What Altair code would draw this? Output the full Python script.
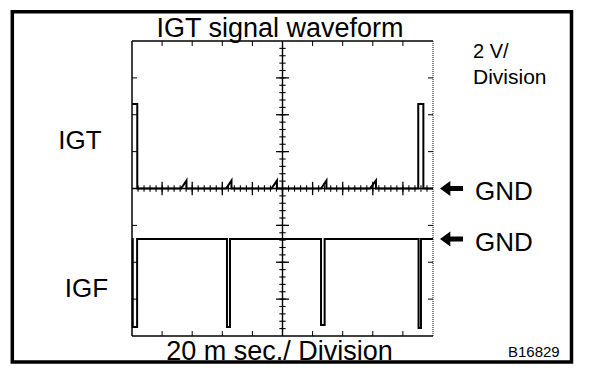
import altair as alt
import pandas as pd
import numpy as np

# ---- data: time in ms (20 ms/div), voltage in V (2 V/div)
IGT_T = [0, 3.5, 3.5, 32.6, 36.2, 36.2, 62.5, 66.1, 66.1, 92.7, 96.3, 96.3,
         125.6, 129.2, 129.2, 158.1, 162.1, 162.1, 190.2, 190.2, 193.6, 193.6, 200]
IGT_V = [4.58, 4.58, 0, 0, 0.43, 0, 0, 0.43, 0, 0, 0.43, 0,
         0, 0.43, 0, 0, 0.43, 0, 0, 4.58, 4.58, 0, 0]
IGF_T = [0, 0.5, 0.5, 3.4, 3.4, 63.1, 63.1, 65.1, 65.1, 125.6, 125.6, 128.0, 128.0,
         190.4, 190.4, 192.0, 192.0, 200]
IGF_V = [0, 0, -4.77, -4.77, 0, 0, -4.77, -4.77, 0, 0, -4.66, -4.66, 0,
         0, -4.83, -4.83, 0, 0]
IGF_GND = -2.74           # IGF trace ground level on screen (V)
IGT_GND = 0.0

# graticule
DIV_T = [20, 40, 60, 80, 100, 120, 140, 160, 180]
DIV_V = [-6, -4, -2, 0, 2, 4, 6]
MINOR_T = [float(v) for v in np.arange(4, 200, 4)]
MINOR_V = [float(v) for v in np.round(np.arange(-7.6, 8, 0.4), 2)]

W, H = 301, 295
FONT = "Liberation Sans"

xs = alt.Scale(domain=[0, 200], nice=False, zero=False)
ys = alt.Scale(domain=[-8, 8], nice=False, zero=False)
X = alt.X("t:Q", scale=xs, axis=None)
Y = alt.Y("v:Q", scale=ys, axis=None)

one = pd.DataFrame({"a": [0]})
igt = pd.DataFrame({"t": IGT_T, "v": IGT_V, "i": range(len(IGT_T))})
igf = pd.DataFrame({"t": IGF_T, "v": [v + IGF_GND for v in IGF_V], "i": range(len(IGF_T))})
div_t = pd.DataFrame({"t": DIV_T})
div_v = pd.DataFrame({"v": DIV_V})
min_t = pd.DataFrame({"t": MINOR_T})
min_v = pd.DataFrame({"v": MINOR_V})
gnd = pd.DataFrame({"v": [IGT_GND, IGF_GND]})

layers = []

# frame of the screen
layers.append(alt.Chart(one).mark_rule(color="black", strokeWidth=1.5).encode(
    x=alt.value(0), y=alt.value(0), y2=alt.value(H)))
layers.append(alt.Chart(one).mark_rule(color="black", strokeWidth=1.5).encode(
    x=alt.value(0), x2=alt.value(W), y=alt.value(0)))
layers.append(alt.Chart(one).mark_rule(color="black", strokeWidth=1.5).encode(
    x=alt.value(0), x2=alt.value(W), y=alt.value(H)))
layers.append(alt.Chart(one).mark_rule(color="black", strokeWidth=1, strokeDash=[1, 1]).encode(
    x=alt.value(W), y=alt.value(0), y2=alt.value(H)))

# edge ticks
layers.append(alt.Chart(div_t).mark_rule(color="black", strokeWidth=1).encode(
    x=X, y=alt.value(0), y2=alt.value(5)))
layers.append(alt.Chart(div_t).mark_rule(color="black", strokeWidth=1).encode(
    x=X, y=alt.value(H - 5), y2=alt.value(H)))
layers.append(alt.Chart(div_v).mark_rule(color="black", strokeWidth=1).encode(
    y=Y, x=alt.value(0), x2=alt.value(5)))
layers.append(alt.Chart(div_v).mark_rule(color="black", strokeWidth=1).encode(
    y=Y, x=alt.value(W - 5), x2=alt.value(W)))

# centre cross
layers.append(alt.Chart(pd.DataFrame({"t": [100]})).mark_rule(color="black", strokeWidth=1.4).encode(x=X))
layers.append(alt.Chart(pd.DataFrame({"v": [0]})).mark_rule(color="black", strokeWidth=1.4).encode(y=Y))


# centre ticks (half-lengths in axis units: 1 px = 0.0542 V = 0.664 ms)
def xticks(df, half, width):
    return alt.Chart(df).transform_calculate(lo=f"{-half}", hi=f"{half}").mark_rule(
        color="black", strokeWidth=width).encode(
        x=X, y=alt.Y("lo:Q", scale=ys, axis=None), y2="hi:Q")


def yticks(df, half, width):
    return alt.Chart(df).transform_calculate(lo=f"{100 - half}", hi=f"{100 + half}").mark_rule(
        color="black", strokeWidth=width).encode(
        y=Y, x=alt.X("lo:Q", scale=xs, axis=None), x2="hi:Q")


layers += [xticks(div_t, 0.36, 1.3), xticks(min_t, 0.17, 1.1),
           yticks(div_v, 4.3, 1.3), yticks(min_v, 2.1, 1.1)]

# traces
layers.append(alt.Chart(igt).mark_line(color="black", strokeWidth=2).encode(x=X, y=Y, order="i:Q"))
layers.append(alt.Chart(igf).mark_line(color="black", strokeWidth=2).encode(x=X, y=Y, order="i:Q"))

# GND arrows
ARROW = "M -1 0 L -0.1 -0.65 L -0.1 -0.22 L 1 -0.22 L 1 0.22 L -0.1 0.22 L -0.1 0.65 Z"
layers.append(alt.Chart(gnd).mark_point(shape=ARROW, size=529, filled=True, color="black", opacity=1).encode(
    x=alt.value(319.5), y=Y))

# outer border
layers.append(alt.Chart(one).mark_rect(fillOpacity=0, stroke="black", strokeWidth=3.5).encode(
    x=alt.value(-119.7), x2=alt.value(439.5), y=alt.value(-29.3), y2=alt.value(321)))


def label(text, x, y, size, align="left"):
    return alt.Chart(one).mark_text(text=text, font=FONT, fontSize=size, align=align,
                                    baseline="alphabetic", color="black").encode(
        x=alt.value(x), y=alt.value(y))


layers += [
    label("IGT signal waveform", 148, -4.3, 27, "center"),
    label("20 m sec./ Division", 147.5, 319, 27, "center"),
    label("2 V/", 341, 17, 20),
    label("Division", 341, 43, 21),
    label("IGT", -52, 108, 26, "center"),
    label("IGF", -45.5, 256, 26, "center"),
    label("GND", 343, 158.5, 26),
    label("GND", 343, 210, 26),
    label("B16829", 376, 316, 15),
]

chart = alt.layer(*layers).properties(
    width=W, height=H,
    padding={"left": 124, "top": 33, "right": 160, "bottom": 30},
    autosize=alt.AutoSizeParams(type="none"),
    background="white",
).configure_view(stroke=None)

chart.save("out.html", embed_options={"renderer": "svg", "actions": False})
